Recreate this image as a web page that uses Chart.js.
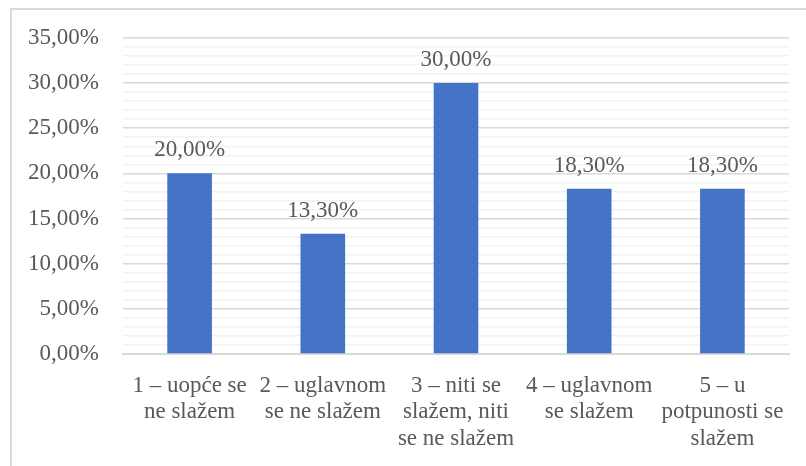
<!DOCTYPE html>
<html>
<head>
<meta charset="utf-8">
<script src="https://cdn.jsdelivr.net/npm/chart.js@4/dist/chart.umd.min.js"></script>
<style>
html,body{margin:0;padding:0;background:#fff;}
#wrap{width:806px;height:466px;position:relative;}
</style>
</head>
<body>
<div id="wrap"><canvas id="c" width="806" height="466"></canvas></div>
<script>
const categories = [
  ["1 – uopće se", "ne slažem"],
  ["2 – uglavnom", "se ne slažem"],
  ["3 – niti se", "slažem, niti", "se ne slažem"],
  ["4 – uglavnom", "se slažem"],
  ["5 – u", "potpunosti se", "slažem"]
];
const values = [20.0, 13.3, 30.0, 18.3, 18.3];
const yMin = 0, yMax = 35, yMajorStep = 5, yMinorStep = 1;

const FONT = "'Liberation Serif', 'Times New Roman', serif";
const TEXT = "#595959";

function fmtPct(v){ return v.toFixed(2).replace('.', ',') + '%'; }

const frame = {
  id: 'frame',
  beforeDraw(chart){
    const ctx = chart.ctx;
    ctx.save();
    ctx.fillStyle = '#fff';
    ctx.fillRect(0,0,chart.width,chart.height);
    ctx.strokeStyle = '#d9d9d9';
    ctx.lineWidth = 2;
    ctx.beginPath();
    ctx.moveTo(11, chart.height);
    ctx.lineTo(11, 9);
    ctx.lineTo(chart.width, 9);
    ctx.stroke();
    ctx.restore();
  }
};

const dataLabels = {
  id: 'dataLabels',
  afterDatasetsDraw(chart){
    const ctx = chart.ctx;
    const meta = chart.getDatasetMeta(0);
    ctx.save();
    ctx.font = "23px " + FONT;
    ctx.fillStyle = TEXT;
    ctx.textAlign = 'center';
    ctx.textBaseline = 'alphabetic';
    meta.data.forEach((bar, i) => {
      ctx.fillText(fmtPct(values[i]), bar.x, bar.y - 17);
    });
    ctx.restore();
  }
};

new Chart(document.getElementById('c'), {
  type: 'bar',
  data: {
    labels: categories,
    datasets: [{
      data: values,
      backgroundColor: '#4472C4',
      borderWidth: 0,
      barPercentage: 0.335,
      categoryPercentage: 1.0
    }]
  },
  options: {
    responsive: false,
    animation: false,
    devicePixelRatio: 1,
    layout: { padding: { left: 0, right: 17, top: 37, bottom: 0 } },
    plugins: { legend: { display: false }, tooltip: { enabled: false } },
    scales: {
      x: {
        grid: { display: false, drawTicks: false },
        border: { display: true, color: '#d9d9d9', width: 2 },
        ticks: {
          autoSkip: false, maxRotation: 0, minRotation: 0,
          color: TEXT, padding: 18,
          font: { family: FONT, size: 23, lineHeight: 1.17 }
        },
        afterFit(s){ s.height = 112; }
      },
      y: {
        min: yMin, max: yMax,
        grid: {
          drawTicks: false,
          color: ctx => (ctx.tick && Math.round(ctx.tick.value) % yMajorStep === 0) ? '#d9d9d9' : '#f2f2f2',
          lineWidth: ctx => (ctx.tick && Math.round(ctx.tick.value) % yMajorStep === 0) ? 1.6 : 1.4
        },
        border: { display: false },
        ticks: {
          stepSize: yMinorStep,
          autoSkip: false,
          color: TEXT, padding: 24,
          font: { family: FONT, size: 23 },
          callback: v => (Math.round(v) % yMajorStep === 0) ? fmtPct(v) : ''
        },
        afterFit(s){ s.width = 123; }
      }
    }
  },
  plugins: [frame, dataLabels]
});
</script>
</body>
</html>
